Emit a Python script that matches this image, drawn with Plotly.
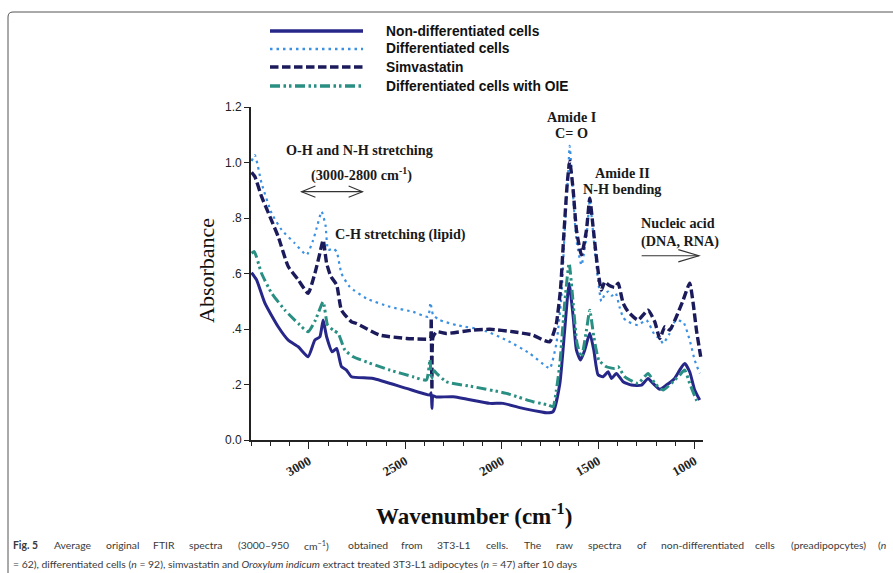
import re
import plotly.graph_objects as go

# ---- FTIR spectra: wavenumber (cm-1) and absorbance for each group ----
nondiff_wn = [3297, 3271, 3228, 3159, 3107, 3055, 3004, 2969, 2943, 2926,
              2908, 2879, 2856, 2831, 2805, 2779, 2667, 2494, 2373, 2366,
              2362, 2357, 2340, 2252, 2062, 1993, 1890, 1800, 1768, 1734,
              1699, 1674, 1651, 1630, 1613, 1592, 1570, 1544, 1523, 1501,
              1475, 1449, 1431, 1406, 1371, 1328, 1276, 1242, 1216, 1181,
              1147, 1104, 1078, 1052, 1026, 1000, 974]
nondiff_abs = [0.603, 0.577, 0.493, 0.408, 0.360, 0.336, 0.300, 0.360, 0.372, 0.432,
               0.372, 0.318, 0.330, 0.264, 0.252, 0.228, 0.222, 0.186, 0.162, 0.170,
               0.114, 0.160, 0.155, 0.156, 0.132, 0.132, 0.114, 0.102, 0.098, 0.102,
               0.204, 0.396, 0.565, 0.444, 0.324, 0.288, 0.324, 0.385, 0.324, 0.235,
               0.228, 0.246, 0.222, 0.240, 0.210, 0.198, 0.198, 0.222, 0.204, 0.183,
               0.198, 0.222, 0.252, 0.276, 0.246, 0.180, 0.144]

diff_wn = [3297, 3280, 3245, 3193, 3141, 3073, 3012, 2978, 2960, 2934,
           2914, 2900, 2874, 2856, 2831, 2788, 2701, 2580, 2460, 2382,
           2370, 2356, 2321, 2235, 2097, 1976, 1855, 1768, 1750, 1717,
           1691, 1674, 1656, 1648, 1630, 1613, 1587, 1561, 1544, 1523,
           1501, 1484, 1466, 1449, 1430, 1410, 1390, 1370, 1345, 1294,
           1250, 1207, 1181, 1164, 1130, 1100, 1060, 1026, 1000, 974]
diff_abs = [1.005, 1.027, 0.925, 0.817, 0.757, 0.709, 0.667, 0.720, 0.763, 0.823,
            0.775, 0.685, 0.690, 0.679, 0.600, 0.552, 0.510, 0.480, 0.462, 0.444,
            0.495, 0.450, 0.432, 0.414, 0.396, 0.360, 0.312, 0.264, 0.258, 0.348,
            0.516, 0.757, 0.961, 1.060, 0.877, 0.720, 0.630, 0.733, 0.865, 0.720,
            0.577, 0.500, 0.525, 0.535, 0.520, 0.530, 0.480, 0.440, 0.426, 0.414,
            0.432, 0.378, 0.366, 0.348, 0.384, 0.430, 0.426, 0.360, 0.288, 0.240]

simva_wn = [3297, 3280, 3245, 3202, 3159, 3107, 3055, 3004, 2969, 2943,
            2926, 2908, 2886, 2856, 2831, 2779, 2753, 2632, 2494, 2382,
            2370, 2366, 2362, 2357, 2338, 2287, 2149, 2062, 1941, 1838,
            1786, 1751, 1734, 1717, 1696, 1679, 1662, 1648, 1630, 1613,
            1587, 1561, 1544, 1527, 1506, 1484, 1466, 1449, 1431, 1415,
            1397, 1371, 1345, 1294, 1242, 1207, 1181, 1155, 1130, 1095,
            1060, 1026, 1008, 991, 969]
simva_abs = [0.965, 0.949, 0.877, 0.805, 0.733, 0.625, 0.577, 0.529, 0.600, 0.673,
             0.720, 0.637, 0.589, 0.559, 0.468, 0.426, 0.420, 0.378, 0.366, 0.363,
             0.363, 0.440, 0.180, 0.370, 0.390, 0.384, 0.396, 0.399, 0.390, 0.378,
             0.360, 0.354, 0.380, 0.420, 0.540, 0.733, 0.913, 1.005, 0.900, 0.757,
             0.667, 0.757, 0.871, 0.769, 0.637, 0.540, 0.570, 0.560, 0.553, 0.550,
             0.565, 0.493, 0.462, 0.432, 0.468, 0.426, 0.366, 0.408, 0.396, 0.444,
             0.504, 0.565, 0.493, 0.396, 0.300]

oie_wn = [3297, 3283, 3245, 3193, 3124, 3055, 3004, 2966, 2926, 2903,
          2874, 2848, 2813, 2770, 2580, 2460, 2391, 2372, 2365, 2350,
          2338, 2287, 2149, 1976, 1838, 1760, 1734, 1717, 1699, 1674,
          1651, 1630, 1610, 1587, 1561, 1544, 1523, 1497, 1458, 1415,
          1397, 1363, 1294, 1242, 1207, 1164, 1121, 1078, 1052, 1026,
          991, 980]
oie_abs = [0.673, 0.679, 0.600, 0.529, 0.468, 0.420, 0.390, 0.432, 0.498, 0.414,
           0.396, 0.384, 0.324, 0.300, 0.252, 0.228, 0.216, 0.290, 0.220, 0.250,
           0.240, 0.210, 0.192, 0.168, 0.138, 0.126, 0.120, 0.180, 0.276, 0.493,
           0.637, 0.493, 0.348, 0.300, 0.396, 0.468, 0.372, 0.288, 0.264, 0.258,
           0.264, 0.228, 0.204, 0.240, 0.204, 0.180, 0.204, 0.234, 0.252, 0.204,
           0.144, 0.132]

series_names = ["Non-differentiated cells", "Differentiated cells",
                "Simvastatin", "Differentiated cells with OIE"]

y_tick_vals = [0.0, 0.2, 0.4, 0.6, 0.8, 1.0, 1.2]
y_tick_text = ["0.0", ".2", ".4", ".6", ".8", "1.0", "1.2"]
x_tick_vals = [3000, 2500, 2000, 1500, 1000]

# caption, first line is set justified word by word
caption_words_1 = ["<b>Fig. 5</b>", "Average", "original", "FTIR", "spectra",
                   "(3000–950", "cm<sup>−1</sup>)", "obtained", "from", "3T3-L1",
                   "cells.", "The", "raw", "spectra", "of", "non-differentiated",
                   "cells", "(preadipopcytes)", "(<i>n</i>"]
caption_line_2 = ("= 62), differentiated cells (<i>n</i> = 92), simvastatin and "
                  "<i>Oroxylum indicum</i> extract treated 3T3-L1 adipocytes "
                  "(<i>n</i> = 47) after 10 days")

# ---- layout geometry and styles ----
W, H = 893, 573
L, R, T, B = 251, 190, 107, 133
PW, PH = W - L - R, H - T - B

styles = [
    dict(color="#27278a", width=3.0, dash="solid"),
    dict(color="#3a90e2", width=2.2, dash="2.5px,4px"),
    dict(color="#1b1b5c", width=3.4, dash="8.5px,3.5px"),
    dict(color="#2a8f83", width=3.0, dash="10px,3.5px,2.5px,3px,2.5px,3.5px"),
]
SERIF = "Liberation Serif, Times New Roman, serif"
SANS = "Liberation Sans, Arial, sans-serif"
CAP_FAMILY = "Lato, Liberation Sans, sans-serif"
CAP_SIZE = 10.4


def px_x(px):
    return (px - L) / PW


def px_y(py):
    return (T + PH - py) / PH


# rough glyph advance widths (em) for laying out the justified caption line
_narrow = set("iljI.,;:'!|")
_semi = set("frt()-[] ")
_wide = set("mwMW")


def text_width(html, size):
    plain = re.sub(r"<[^>]+>", "", html)
    w = 0.0
    for ch in plain:
        if ch in _narrow:
            w += 0.24
        elif ch in _semi:
            w += 0.33
        elif ch in _wide:
            w += 0.82
        elif ch.isupper():
            w += 0.62
        elif ch.isdigit() or ch in "–−=":
            w += 0.58
        else:
            w += 0.52
    return w * size


fig = go.Figure()
data = [(nondiff_wn, nondiff_abs), (diff_wn, diff_abs),
        (simva_wn, simva_abs), (oie_wn, oie_abs)]
for (wn, ab), name, st in zip(data, series_names, styles):
    fig.add_trace(go.Scatter(
        x=wn, y=ab, name=name, mode="lines",
        line=dict(color=st["color"], width=st["width"], dash=st["dash"],
                  shape="spline", smoothing=0.5),
        showlegend=False,
    ))

shapes = []
annotations = []

# legend block above the plot
legend_rows = [31, 49, 67, 86]
for name, st, row in zip(series_names, styles, legend_rows):
    shapes.append(dict(type="line", xref="paper", yref="paper",
                       x0=px_x(270), x1=px_x(363), y0=px_y(row), y1=px_y(row),
                       line=dict(color=st["color"], width=st["width"] + 0.3,
                                 dash=st["dash"])))
    annotations.append(dict(xref="paper", yref="paper", x=px_x(384), y=px_y(row),
                            xanchor="left", yanchor="middle", showarrow=False,
                            text=f"<b>{name}</b>",
                            font=dict(family=SANS, size=13.8, color="#111")))

# band labels in data coordinates
band_font = dict(family=SERIF, size=14.2, color="#1a1a1a")
band_labels = [
    (2736, 1.045, "center", "<b>O-H and N-H stretching</b>"),
    (2725, 0.955, "center", "<b>(3000-2800 cm<sup>-1</sup>)</b>"),
    (2523, 0.739, "center", "<b>C-H stretching (lipid)</b>"),
    (1637, 1.163, "center", "<b>Amide I</b>"),
    (1637, 1.105, "center", "<b>C= O</b>"),
    (1376, 0.961, "center", "<b>Amide II</b>"),
    (1376, 0.903, "center", "<b>N-H bending</b>"),
    (1287, 0.781, "left", "<b>Nucleic acid</b>"),
    (1287, 0.715, "left", "<b>(DNA, RNA)</b>"),
]
for x, y, anchor, txt in band_labels:
    annotations.append(dict(x=x, y=y, xref="x", yref="y", text=txt,
                            xanchor=anchor, yanchor="middle", showarrow=False,
                            font=band_font))

# arrows marking the spectral regions
arrow_line = dict(color="#333333", width=1.1)
shapes += [
    dict(type="path", xref="x", yref="y", line=arrow_line,
         path="M 3038,0.895 L 2722,0.895"),
    dict(type="path", xref="x", yref="y", line=arrow_line,
         path="M 2966,0.915 L 3038,0.895 L 2966,0.875"),
    dict(type="path", xref="x", yref="y", line=arrow_line,
         path="M 2794,0.915 L 2722,0.895 L 2794,0.875"),
    dict(type="path", xref="x", yref="y", line=arrow_line,
         path="M 1275,0.664 L 978,0.664"),
    dict(type="path", xref="x", yref="y", line=arrow_line,
         path="M 1085,0.686 L 978,0.664 L 1085,0.642"),
]

# axis titles
annotations.append(dict(xref="paper", yref="paper", x=px_x(206), y=px_y(271),
                        text="Absorbance", textangle=-90, showarrow=False,
                        xanchor="center", yanchor="middle",
                        font=dict(family=SERIF, size=22, color="#111")))
annotations.append(dict(xref="paper", yref="paper", x=px_x(474), y=px_y(514),
                        text="<b>Wavenumber (cm<sup>-1</sup>)</b>", showarrow=False,
                        xanchor="center", yanchor="middle",
                        font=dict(family=SERIF, size=23, color="#111")))

# figure caption: justified first line, ragged last line
cap_font = dict(family=CAP_FAMILY, size=CAP_SIZE, color="#3a3a3a")
cap_left, cap_right = 11, 888
widths = [text_width(w, CAP_SIZE) for w in caption_words_1]
gap = (cap_right - cap_left - sum(widths)) / (len(widths) - 1)
xpos = cap_left
for i, (word, wd) in enumerate(zip(caption_words_1, widths)):
    last = i == len(widths) - 1
    annotations.append(dict(
        xref="paper", yref="paper",
        x=px_x(cap_right if last else xpos), y=px_y(545),
        xanchor="right" if last else "left", yanchor="middle",
        showarrow=False, font=cap_font, text=word))
    xpos += wd + gap
annotations.append(dict(
    xref="paper", yref="paper", x=px_x(cap_left), y=px_y(564), xanchor="left",
    yanchor="middle", showarrow=False, font=cap_font, text=caption_line_2))

# outer frame with rounded top-left corner
shapes.append(dict(
    type="path", xref="paper", yref="paper",
    line=dict(color="#555555", width=1),
    path=(f"M {px_x(8)},{px_y(580)} L {px_x(8)},{px_y(17)} "
          f"Q {px_x(8)},{px_y(12)} {px_x(13)},{px_y(12)} L {px_x(900)},{px_y(12)}"),
))

fig.update_layout(
    width=W, height=H,
    margin=dict(l=L, r=R, t=T, b=B, pad=0),
    paper_bgcolor="white", plot_bgcolor="white",
    showlegend=False,
    shapes=shapes, annotations=annotations,
    xaxis=dict(
        range=[3300, 957], autorange=False,
        tickvals=x_tick_vals, ticktext=[str(v) for v in x_tick_vals],
        ticks="outside", ticklen=7, tickwidth=1.2, tickcolor="#222",
        minor=dict(dtick=100, tick0=1000, ticks="outside", ticklen=4,
                   tickwidth=1.1, tickcolor="#222"),
        tickangle=-30,
        tickfont=dict(family=SERIF, size=13, color="#222", weight="bold"),
        showline=True, linecolor="#222", linewidth=1.6,
        showgrid=False, zeroline=False, mirror=False,
    ),
    yaxis=dict(
        range=[0, 1.2], autorange=False,
        tickvals=y_tick_vals, ticktext=y_tick_text,
        ticks="outside", ticklen=5, tickwidth=1.2, tickcolor="#222",
        tickfont=dict(family=SANS, size=12, color="#222"),
        showline=True, linecolor="#222", linewidth=1.6,
        showgrid=False, zeroline=False, mirror=False,
    ),
)

fig.write_html("out.html")
